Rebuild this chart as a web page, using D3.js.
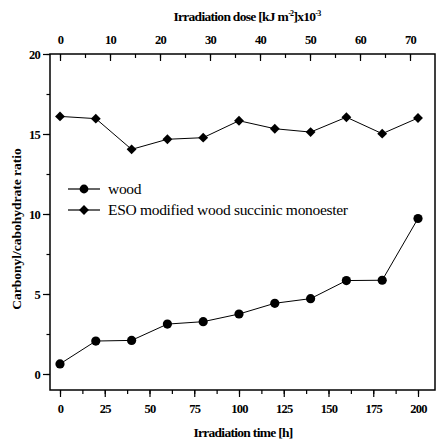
<!DOCTYPE html>
<html>
<head>
<meta charset="UTF-8">
<script src="https://d3js.org/d3.v7.min.js"></script>
<style>
  body { margin: 0; background: #fff; }
  svg text { font-family: "Liberation Serif", "Times New Roman", serif; }
  .tick text { font-weight: bold; font-size: 12.5px; letter-spacing: -0.8px; }
</style>
</head>
<body>
<svg width="437" height="441"></svg>
<script>
// irradiation time [h]
const hours = [0, 20, 40, 60, 80, 100, 120, 140, 160, 180, 200]
const wood = [0.63, 2.06, 2.1, 3.12, 3.27, 3.75, 4.42, 4.71, 5.84, 5.86, 9.72]
const eso = [16.1, 15.96, 14.04, 14.67, 14.77, 15.83, 15.33, 15.12, 16.05, 15.02, 16.0]
const seriesNames = ["wood", "ESO modified wood succinic monoester"]

const svg = d3.select("svg")
const frame = { left: 50, right: 435, top: 54, bottom: 390 }

// x(0)=60, x(200)=418
const x = d3.scaleLinear().domain([0, 200]).range([60, 418])
const xDose = d3.scaleLinear().domain([0, 70]).range([60, 410])
const y = d3.scaleLinear().domain([-1, 20]).range([frame.bottom, frame.top])

// frame
svg.append("rect")
  .attr("x", frame.left).attr("y", frame.top)
  .attr("width", frame.right - frame.left).attr("height", frame.bottom - frame.top)
  .attr("fill", "none").attr("stroke", "#000").attr("stroke-width", 1.5)

// bottom axis
const bottom = svg.append("g").attr("transform", `translate(0,${frame.bottom})`)
bottom.call(d3.axisBottom(x).tickValues(d3.range(0, 201, 12.5)).tickSize(4).tickFormat(""))
bottom.call(g => g.selectAll(".domain").remove())
const bottomMajor = svg.append("g").attr("transform", `translate(0,${frame.bottom})`)
  .call(d3.axisBottom(x).tickValues(d3.range(0, 201, 25)).tickSize(7).tickPadding(7))
bottomMajor.select(".domain").remove()

// top axis (ticks point inward)
const top1 = svg.append("g").attr("transform", `translate(0,${frame.top})`)
  .call(d3.axisBottom(xDose).tickValues(d3.range(0, 71, 5)).tickSize(4).tickFormat(""))
top1.select(".domain").remove()
const topMajor = svg.append("g").attr("transform", `translate(0,${frame.top})`)
  .call(d3.axisTop(xDose).tickValues(d3.range(0, 71, 10)).tickSize(0).tickPadding(10))
topMajor.select(".domain").remove()
svg.append("g").attr("transform", `translate(0,${frame.top})`)
  .call(d3.axisBottom(xDose).tickValues(d3.range(0, 71, 10)).tickSize(7).tickFormat(""))
  .select(".domain").remove()

// left axis
const left = svg.append("g").attr("transform", `translate(${frame.left},0)`)
  .call(d3.axisLeft(y).tickValues(d3.range(0, 20.1, 2.5)).tickSize(3.5).tickFormat(""))
left.select(".domain").remove()
const leftMajor = svg.append("g").attr("transform", `translate(${frame.left},0)`)
  .call(d3.axisLeft(y).tickValues([0, 5, 10, 15, 20]).tickSize(7).tickPadding(3))
leftMajor.select(".domain").remove()

svg.selectAll(".tick line").attr("stroke-width", 1.2)

// lines
const line = d3.line().x((d, i) => x(hours[i])).y(d => y(d))
svg.append("path").datum(wood).attr("d", line)
  .attr("fill", "none").attr("stroke", "#000").attr("stroke-width", 1)
svg.append("path").datum(eso).attr("d", line)
  .attr("fill", "none").attr("stroke", "#000").attr("stroke-width", 1)

const diamond = d3.symbol().type(d3.symbolDiamond2).size(62)

svg.selectAll(".wood").data(wood).enter().append("circle")
  .attr("cx", (d, i) => x(hours[i])).attr("cy", d => y(d)).attr("r", 4.6)
svg.selectAll(".eso").data(eso).enter().append("path")
  .attr("d", diamond)
  .attr("transform", (d, i) => `translate(${x(hours[i])},${y(d)})`)

// legend
const legend = svg.append("g")
seriesNames.forEach((name, i) => {
  const ly = 189 + i * 21
  legend.append("line").attr("x1", 68).attr("x2", 100).attr("y1", ly).attr("y2", ly)
    .attr("stroke", "#000").attr("stroke-width", 1.2)
  if (i === 0) legend.append("circle").attr("cx", 84).attr("cy", ly).attr("r", 4.4)
  else legend.append("path").attr("d", diamond).attr("transform", `translate(84,${ly})`)
  legend.append("text").attr("x", 108).attr("y", ly + 5)
    .attr("font-size", 15.5).attr("letter-spacing", -0.3).text(name)
})

// axis titles
svg.append("text").attr("x", 243).attr("y", 437).attr("text-anchor", "middle")
  .attr("font-weight", "bold").attr("font-size", 13.5).attr("letter-spacing", -0.7)
  .text("Irradiation time [h]")

svg.append("text").attr("transform", "translate(21,229) rotate(-90)")
  .attr("text-anchor", "middle").attr("font-weight", "bold").attr("font-size", 13.5)
  .text("Carbonyl/cabohydrate ratio")

const topTitle = svg.append("text").attr("x", 247).attr("y", 21).attr("text-anchor", "middle")
  .attr("font-weight", "bold").attr("font-size", 13.5).attr("letter-spacing", -0.7)
topTitle.append("tspan").text("Irradiation dose [kJ m")
topTitle.append("tspan").attr("dy", -5).attr("font-size", 8).text("-2")
topTitle.append("tspan").attr("dy", 5).text("]x10")
topTitle.append("tspan").attr("dy", -5).attr("font-size", 8).text("-3")
</script>
</body>
</html>
